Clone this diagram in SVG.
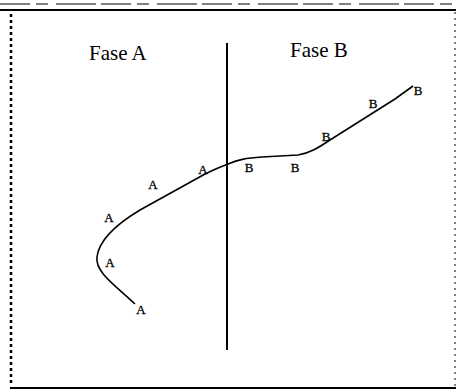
<svg xmlns="http://www.w3.org/2000/svg" width="456" height="392" viewBox="0 0 456 392">
<style>
.frame{stroke:#000;fill:none}
.title{font-family:"Liberation Serif",serif;font-size:21px;fill:#000}
.lbl{font-family:"Liberation Serif",serif;font-size:13px;fill:#000;stroke:#000;stroke-width:0.3;text-anchor:middle}
.curve{stroke:#000;stroke-width:1.6;fill:none}
</style>
<rect width="456" height="392" fill="#fff"/>
<g id="frame">
<line class="frame" x1="0" y1="10" x2="456" y2="10" stroke-width="2"/>
<line class="frame" x1="0" y1="4" x2="456" y2="4" stroke-width="1" stroke-dasharray="30 6 12 8 40 5"/>
<line class="frame" x1="11" y1="14" x2="11" y2="386" stroke-width="2.5" stroke-dasharray="3 3"/>
<line class="frame" x1="10" y1="388" x2="456" y2="388" stroke-width="2"/>
<line class="frame" x1="455" y1="12" x2="455" y2="388" stroke-width="1" stroke="#bbb" stroke-dasharray="2 4"/>
</g>
<g id="divider">
<line x1="227" y1="43" x2="227" y2="350" stroke="#000" stroke-width="2"/>
</g>
<g id="fase-a"><text class="title" x="89" y="60">Fase A</text></g>
<g id="fase-b"><text class="title" x="290" y="57">Fase B</text></g>
<g id="connectors">
<path class="curve" d="M135 304 C115 285 95 272 97 257 C99 240 115 225 140 210 L205 174 C213 170 220 167 228 164 C238 160 245 158 262 157 L298 155 C310 153 318 148 330 140 L395 99 L413 86"/>
</g>
<g id="labels-a">
<text class="lbl" x="141" y="314">A</text>
<text class="lbl" x="110" y="267">A</text>
<text class="lbl" x="109" y="222">A</text>
<text class="lbl" x="153" y="189">A</text>
<text class="lbl" x="203" y="174">A</text>
</g>
<g id="labels-b">
<text class="lbl" x="249" y="172">B</text>
<text class="lbl" x="295" y="172">B</text>
<text class="lbl" x="326" y="141">B</text>
<text class="lbl" x="373" y="108">B</text>
<text class="lbl" x="418" y="95">B</text>
</g>
</svg>
